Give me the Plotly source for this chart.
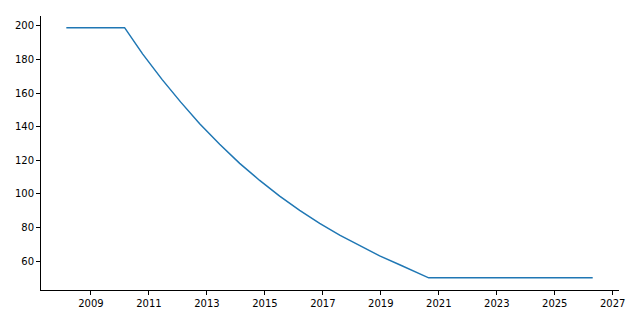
import plotly.graph_objects as go

years = [2008.15, 2010.16, 2010.78, 2011.45, 2012.09, 2012.75, 2013.44, 2014.13,
         2014.82, 2015.51, 2016.20, 2016.89, 2017.58, 2018.27, 2018.96, 2019.65,
         2020.15, 2020.65, 2026.31]
values = [199, 199, 183.4, 168.2, 154.8, 141.8, 129.6, 118.2,
          108.0, 98.7, 90.2, 82.4, 75.4, 69.0, 63.1, 57.8,
          53.8, 50, 50]
x_ticks = [2009, 2011, 2013, 2015, 2017, 2019, 2021, 2023, 2025, 2027]
y_ticks = [60, 80, 100, 120, 140, 160, 180, 200]

fig = go.Figure()
fig.add_trace(go.Scatter(x=years, y=values, mode="lines",
                         line=dict(color="#1f77b4", width=1.5),
                         showlegend=False))

axis_common = dict(showgrid=False, zeroline=False, showline=True,
                   linecolor="black", linewidth=1, ticks="outside",
                   ticklen=4, tickwidth=1, tickcolor="black",
                   tickfont=dict(family="DejaVu Sans", size=10, color="black"))

fig.update_xaxes(range=[2007.276, 2027.217], tickvals=x_ticks,
                 ticktext=[str(t) for t in x_ticks], **axis_common)
fig.update_yaxes(range=[42.75, 205.95], tickvals=y_ticks,
                 ticktext=[str(t) for t in y_ticks], **axis_common)

fig.update_layout(width=640, height=320,
                  margin=dict(l=41, r=21, t=16, b=30),
                  paper_bgcolor="white", plot_bgcolor="white")

fig.write_html("out.html")
